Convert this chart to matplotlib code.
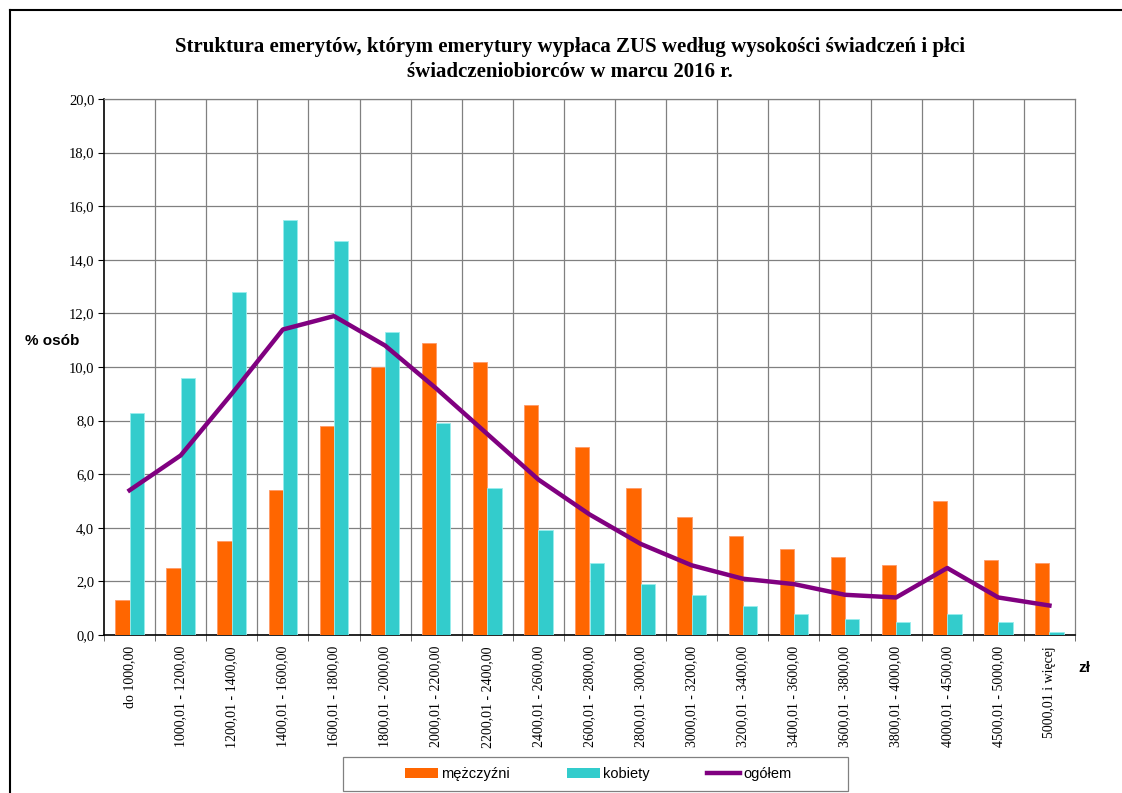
import matplotlib
matplotlib.use("Agg")
import matplotlib.pyplot as plt
from matplotlib.patches import Patch, Rectangle
from matplotlib.lines import Line2D
import numpy as np

categories = ["do 1000,00", "1000,01 - 1200,00", "1200,01 - 1400,00", "1400,01 - 1600,00",
              "1600,01 - 1800,00", "1800,01 - 2000,00", "2000,01 - 2200,00", "2200,01 - 2400,00",
              "2400,01 - 2600,00", "2600,01 - 2800,00", "2800,01 - 3000,00", "3000,01 - 3200,00",
              "3200,01 - 3400,00", "3400,01 - 3600,00", "3600,01 - 3800,00", "3800,01 - 4000,00",
              "4000,01 - 4500,00", "4500,01 - 5000,00", "5000,01 i więcej"]
men = [1.3, 2.5, 3.5, 5.4, 7.8, 10.0, 10.9, 10.2, 8.6, 7.0, 5.5, 4.4, 3.7, 3.2, 2.9, 2.6, 5.0, 2.8, 2.7]
women = [8.3, 9.6, 12.8, 15.5, 14.7, 11.3, 7.9, 5.5, 3.9, 2.7, 1.9, 1.5, 1.1, 0.8, 0.6, 0.5, 0.8, 0.5, 0.1]
total = [5.4, 6.7, 9.0, 11.4, 11.9, 10.8, 9.2, 7.5, 5.8, 4.5, 3.4, 2.6, 2.1, 1.9, 1.5, 1.4, 2.5, 1.4, 1.1]
yticks = [0, 2, 4, 6, 8, 10, 12, 14, 16, 18, 20]

ORANGE = "#FF6600"
CYAN = "#33CCCC"
PURPLE = "#800080"

W, H = 1122, 793
fig = plt.figure(figsize=(W / 100, H / 100), dpi=100)
ax = fig.add_axes([104 / W, 1 - 635 / H, (1075 - 104) / W, (635 - 99) / H])

x = np.arange(len(categories))
bw = 0.28
ax.bar(x - bw / 2, men, width=bw, color=ORANGE, edgecolor="#FF9966", linewidth=0.6, zorder=3)
ax.bar(x + bw / 2, women, width=bw, color=CYAN, edgecolor="#99EEEE", linewidth=0.6, zorder=3)
ax.plot(x, total, color=PURPLE, linewidth=3.2, zorder=4, solid_joinstyle="round")

ax.set_xlim(-0.5, len(categories) - 0.5)
ax.set_ylim(0, 20)
ax.set_yticks(yticks)
ax.set_yticklabels([f"{v:.1f}".replace(".", ",") for v in yticks],
                   fontfamily="Liberation Serif", fontsize=10.5)
ax.set_xticks(x)
ax.set_xticklabels(categories, rotation=90, fontfamily="Liberation Serif", fontsize=10,
                   va="top", ha="center")
ax.set_xticks(np.arange(-0.5, len(categories), 1), minor=True)
ax.tick_params(axis="x", which="major", length=0, pad=8)
ax.tick_params(axis="x", which="minor", length=4, color="#555555", direction="out")
ax.tick_params(axis="y", length=4, direction="out", color="black", pad=3)

for v in yticks[1:]:
    ax.axhline(v, color="#808080", linewidth=0.9, zorder=1)
for b in np.arange(0.5, len(categories) - 0.5, 1):
    ax.axvline(b, color="#808080", linewidth=0.9, zorder=1)

for s in ["top", "right"]:
    ax.spines[s].set_color("#808080")
    ax.spines[s].set_linewidth(0.9)
ax.spines["left"].set_color("black")
ax.spines["left"].set_linewidth(1.2)
ax.spines["bottom"].set_color("black")
ax.spines["bottom"].set_linewidth(1.2)

fig.text(570 / W, 1 - 47 / H,
         "Struktura emerytów, którym emerytury wypłaca ZUS według wysokości świadczeń i płci",
         ha="center", va="center", fontfamily="Liberation Serif", fontweight="bold", fontsize=15)
fig.text(570 / W, 1 - 72 / H, "świadczeniobiorców w marcu 2016 r.",
         ha="center", va="center", fontfamily="Liberation Serif", fontweight="bold", fontsize=15)

fig.text(25 / W, 1 - 341 / H, "% osób", ha="left", va="center",
         fontfamily="Liberation Sans", fontweight="bold", fontsize=11)
fig.text(1078 / W, 1 - 668 / H, "zł", ha="left", va="center",
         fontfamily="Liberation Sans", fontweight="bold", fontsize=11)

# outer frame
fig.add_artist(Line2D([10 / W, 1.0], [1 - 10 / H, 1 - 10 / H], color="black", linewidth=1.5))
fig.add_artist(Line2D([10 / W, 10 / W], [0, 1 - 10 / H], color="black", linewidth=1.5))

# legend frame
fig.add_artist(Rectangle((343 / W, 1 - 791 / H), (848 - 343) / W, (791 - 757) / H,
                         transform=fig.transFigure, facecolor="white", edgecolor="#808080",
                         linewidth=0.9))

handles = [Patch(facecolor=ORANGE, edgecolor="none"),
           Patch(facecolor=CYAN, edgecolor="none"),
           Line2D([0], [0], color=PURPLE, linewidth=3.2)]
leg = fig.legend(handles, ["mężczyźni", "kobiety", "ogółem"], loc="center",
                 bbox_to_anchor=(598 / W, 1 - 774 / H), ncol=3, frameon=False,
                 prop={"family": "Liberation Sans", "size": 10.5},
                 columnspacing=3.9, handlelength=2.3, handletextpad=0.2, borderaxespad=0)
leg.set_zorder(5)

fig.savefig("out.png", dpi=100)
